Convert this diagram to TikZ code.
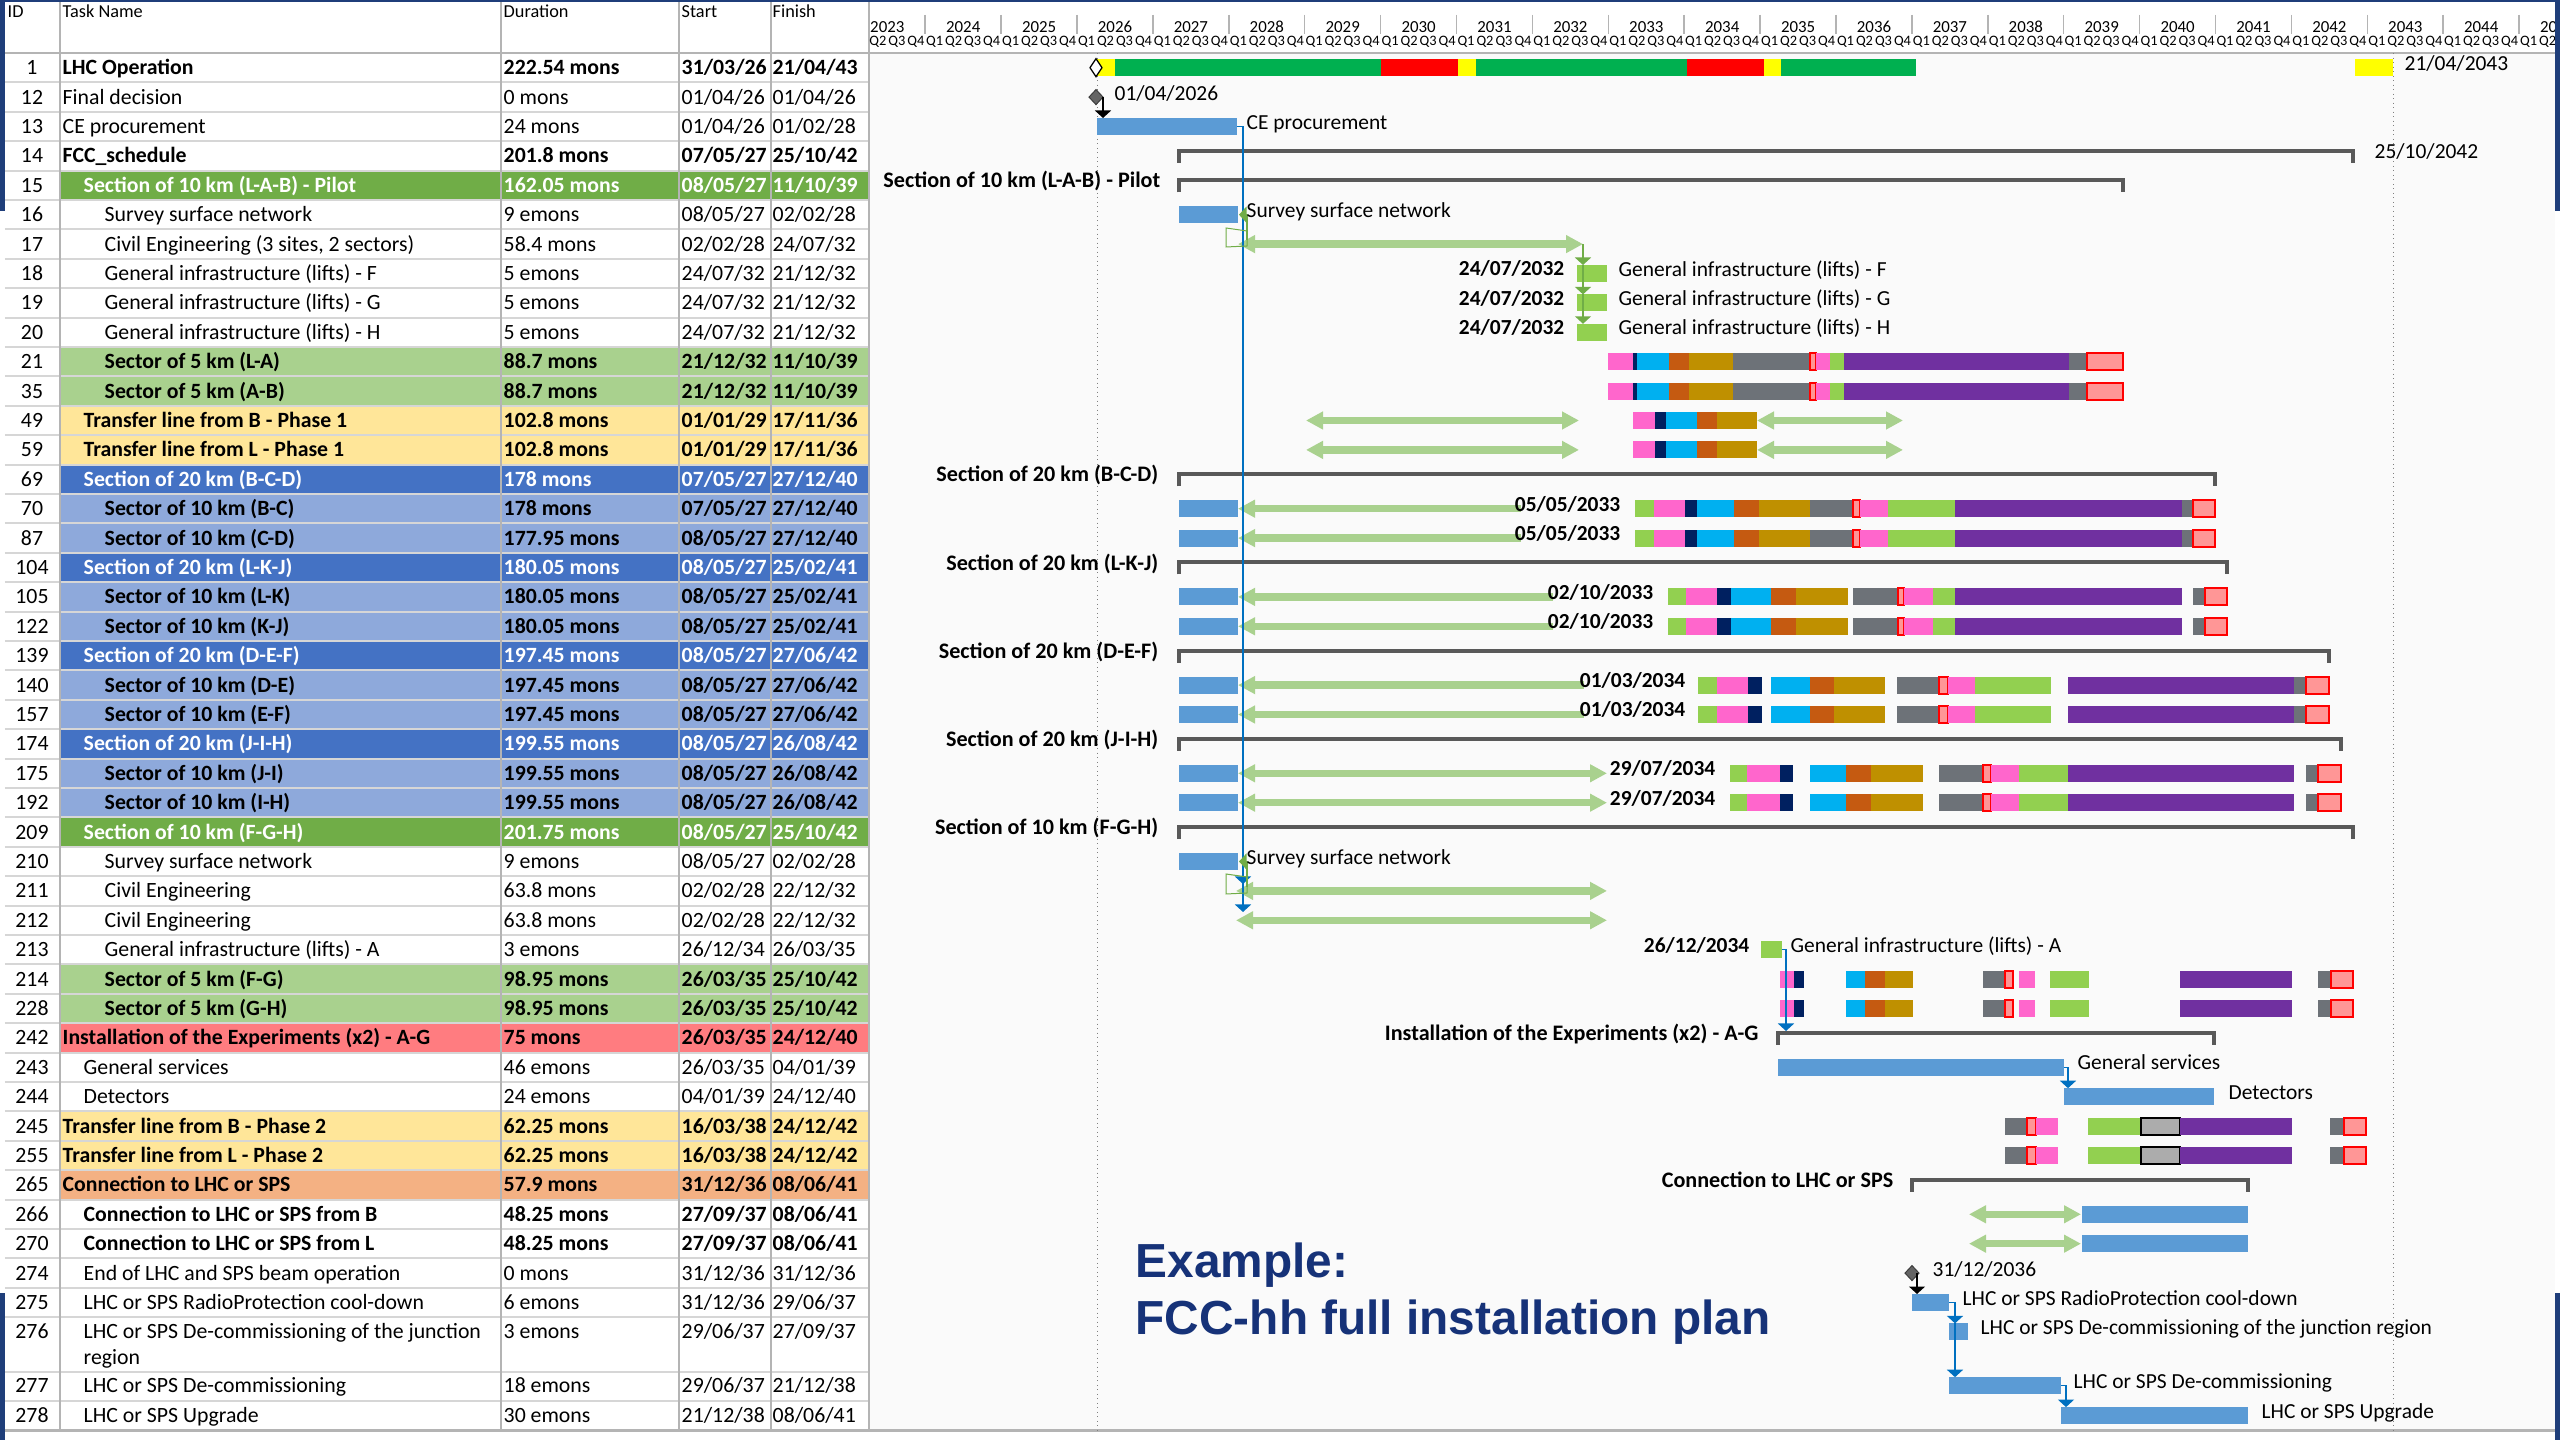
\documentclass[tikz,border=0pt]{standalone}
\usepackage{fontspec}
\setmainfont{Carlito}
\newfontfamily\titlefont{Liberation Sans}
\usetikzlibrary{arrows.meta,patterns}
\definecolor{slideblue}{RGB}{31,62,122}
\definecolor{titleblue}{RGB}{22,50,120}
\definecolor{secgreen}{RGB}{112,173,71}
\definecolor{ltgreen}{RGB}{169,209,142}
\definecolor{ltyellow}{RGB}{255,230,153}
\definecolor{secblue}{RGB}{68,114,196}
\definecolor{ltblue}{RGB}{142,169,219}
\definecolor{rowred}{RGB}{255,124,128}
\definecolor{roworange}{RGB}{244,177,131}
\definecolor{barblue}{RGB}{91,155,213}
\definecolor{liftgreen}{RGB}{146,208,80}
\definecolor{arrgreen}{RGB}{169,209,142}
\definecolor{linkblue}{RGB}{0,112,192}
\definecolor{linkgreen}{RGB}{112,173,71}
\definecolor{opyellow}{RGB}{255,255,0}
\definecolor{opgreen}{RGB}{0,176,80}
\definecolor{opred}{RGB}{255,0,0}
\definecolor{cpink}{RGB}{255,102,204}
\definecolor{cnavy}{RGB}{0,32,96}
\definecolor{ccyan}{RGB}{0,176,240}
\definecolor{crust}{RGB}{197,90,17}
\definecolor{cgold}{RGB}{191,144,0}
\definecolor{cgrey}{RGB}{109,114,120}
\definecolor{cpurple}{RGB}{112,48,160}
\definecolor{sumgrey}{RGB}{89,89,89}
\definecolor{msgrey}{RGB}{100,100,100}
\definecolor{gridgrey}{RGB}{214,214,214}
\definecolor{colgrey}{RGB}{180,180,180}
\definecolor{chartbg}{RGB}{250,250,250}
\definecolor{hatchred}{RGB}{255,150,150}

\begin{document}
\begin{tikzpicture}[x=0.1mm, y=-0.1mm,
  cell/.style={anchor=base west, inner sep=0pt, font=\fontsize{6.2}{7.4}\selectfont},
  cellb/.style={cell, font=\fontsize{6.2}{7.4}\selectfont\bfseries},
  cellw/.style={cellb, text=white},
  idcell/.style={anchor=base, inner sep=0pt, font=\fontsize{6.2}{7.4}\selectfont},
  hdr/.style={anchor=base west, inner sep=0pt, font=\fontsize{5.2}{6}\selectfont},
  yrlbl/.style={inner sep=0pt, font=\fontsize{4.8}{5}\selectfont},
  qlbl/.style={inner sep=0pt, font=\fontsize{4.1}{5}\selectfont},
  rlbl/.style={anchor=base west, inner sep=0pt, font=\fontsize{6.1}{7.4}\selectfont},
  dlbl/.style={anchor=base east, inner sep=0pt, font=\fontsize{6.1}{7.4}\selectfont\bfseries},
  slbl/.style={anchor=base east, inner sep=0pt, font=\fontsize{6.3}{7.4}\selectfont\bfseries},
  gridline/.style={draw=gridgrey, line width=0.2mm},
  colline/.style={draw=colgrey, line width=0.15mm},
  vdot/.style={draw=gray, line width=0.1mm, densely dotted},
  summ/.style={draw=sumgrey, line width=0.4mm, line join=miter},
  garr/.style={draw=arrgreen, line width=0.75mm},
  gboth/.style={garr, {Triangle[length=1.7mm,width=1.7mm]}-{Triangle[length=1.7mm,width=1.7mm]}},
  gleft/.style={garr, {Triangle[length=1.7mm,width=1.7mm]}-},
  blink/.style={draw=linkblue, line width=0.15mm, -{Triangle[length=0.75mm,width=1.6mm]}},
  klink/.style={draw=black, line width=0.15mm, -{Triangle[length=0.75mm,width=1.6mm]}},
  glink/.style={draw=linkgreen, line width=0.15mm, -{Triangle[length=0.75mm,width=1.6mm]}},
  sgpink/.style={fill=cpink}, sgnavy/.style={fill=cnavy}, sgcyan/.style={fill=ccyan},
  sgrust/.style={fill=crust}, sggold/.style={fill=cgold}, sggrey/.style={fill=cgrey},
  sggreen/.style={fill=liftgreen}, sgpurple/.style={fill=cpurple},
  sghatch/.style={draw=red, line width=0.2mm, fill=hatchred},
  sgblack/.style={draw=black, line width=0.2mm, fill=gray!65},
  ttl/.style={anchor=base west, inner sep=0pt, text=titleblue, font=\titlefont\bfseries\fontsize{13.6}{16}\selectfont}
]
\useasboundingbox (0,0) rectangle (2560,1440);
\fill[white] (0,0) rectangle (2560,1440);
\fill[chartbg] (869,53) rectangle (2555,1430.3);

% Table rows
\foreach \rw/\id/\nm/\du/\sd/\fn/\tx/\fc/\ts in {
 0/1/{LHC Operation}/{222.54 mons}/{31/03/26}/{21/04/43}/62/white/cellb,
 1/12/{Final decision}/{0 mons}/{01/04/26}/{01/04/26}/62/white/cell,
 2/13/{CE procurement}/{24 mons}/{01/04/26}/{01/02/28}/62/white/cell,
 3/14/{FCC\_schedule}/{201.8 mons}/{07/05/27}/{25/10/42}/62/white/cellb,
 4/15/{Section of 10 km (L-A-B) - Pilot}/{162.05 mons}/{08/05/27}/{11/10/39}/83/secgreen/cellw,
 5/16/{Survey surface network}/{9 emons}/{08/05/27}/{02/02/28}/104/white/cell,
 6/17/{Civil Engineering (3 sites, 2 sectors)}/{58.4 mons}/{02/02/28}/{24/07/32}/104/white/cell,
 7/18/{General infrastructure (lifts) - F}/{5 emons}/{24/07/32}/{21/12/32}/104/white/cell,
 8/19/{General infrastructure (lifts) - G}/{5 emons}/{24/07/32}/{21/12/32}/104/white/cell,
 9/20/{General infrastructure (lifts) - H}/{5 emons}/{24/07/32}/{21/12/32}/104/white/cell,
 10/21/{Sector of 5 km (L-A)}/{88.7 mons}/{21/12/32}/{11/10/39}/104/ltgreen/cellb,
 11/35/{Sector of 5 km (A-B)}/{88.7 mons}/{21/12/32}/{11/10/39}/104/ltgreen/cellb,
 12/49/{Transfer line from B - Phase 1}/{102.8 mons}/{01/01/29}/{17/11/36}/83/ltyellow/cellb,
 13/59/{Transfer line from L - Phase 1}/{102.8 mons}/{01/01/29}/{17/11/36}/83/ltyellow/cellb,
 14/69/{Section of 20 km (B-C-D)}/{178 mons}/{07/05/27}/{27/12/40}/83/secblue/cellw,
 15/70/{Sector of 10 km (B-C)}/{178 mons}/{07/05/27}/{27/12/40}/104/ltblue/cellb,
 16/87/{Sector of 10 km (C-D)}/{177.95 mons}/{08/05/27}/{27/12/40}/104/ltblue/cellb,
 17/104/{Section of 20 km (L-K-J)}/{180.05 mons}/{08/05/27}/{25/02/41}/83/secblue/cellw,
 18/105/{Sector of 10 km (L-K)}/{180.05 mons}/{08/05/27}/{25/02/41}/104/ltblue/cellb,
 19/122/{Sector of 10 km (K-J)}/{180.05 mons}/{08/05/27}/{25/02/41}/104/ltblue/cellb,
 20/139/{Section of 20 km (D-E-F)}/{197.45 mons}/{08/05/27}/{27/06/42}/83/secblue/cellw,
 21/140/{Sector of 10 km (D-E)}/{197.45 mons}/{08/05/27}/{27/06/42}/104/ltblue/cellb,
 22/157/{Sector of 10 km (E-F)}/{197.45 mons}/{08/05/27}/{27/06/42}/104/ltblue/cellb,
 23/174/{Section of 20 km (J-I-H)}/{199.55 mons}/{08/05/27}/{26/08/42}/83/secblue/cellw,
 24/175/{Sector of 10 km (J-I)}/{199.55 mons}/{08/05/27}/{26/08/42}/104/ltblue/cellb,
 25/192/{Sector of 10 km (I-H)}/{199.55 mons}/{08/05/27}/{26/08/42}/104/ltblue/cellb,
 26/209/{Section of 10 km (F-G-H)}/{201.75 mons}/{08/05/27}/{25/10/42}/83/secgreen/cellw,
 27/210/{Survey surface network}/{9 emons}/{08/05/27}/{02/02/28}/104/white/cell,
 28/211/{Civil Engineering}/{63.8 mons}/{02/02/28}/{22/12/32}/104/white/cell,
 29/212/{Civil Engineering}/{63.8 mons}/{02/02/28}/{22/12/32}/104/white/cell,
 30/213/{General infrastructure (lifts) - A}/{3 emons}/{26/12/34}/{26/03/35}/104/white/cell,
 31/214/{Sector of 5 km (F-G)}/{98.95 mons}/{26/03/35}/{25/10/42}/104/ltgreen/cellb,
 32/228/{Sector of 5 km (G-H)}/{98.95 mons}/{26/03/35}/{25/10/42}/104/ltgreen/cellb,
 33/242/{Installation of the Experiments (x2) - A-G}/{75 mons}/{26/03/35}/{24/12/40}/62/rowred/cellb,
 34/243/{General services}/{46 emons}/{26/03/35}/{04/01/39}/83/white/cell,
 35/244/{Detectors}/{24 emons}/{04/01/39}/{24/12/40}/83/white/cell,
 36/245/{Transfer line from B - Phase 2}/{62.25 mons}/{16/03/38}/{24/12/42}/62/ltyellow/cellb,
 37/255/{Transfer line from L - Phase 2}/{62.25 mons}/{16/03/38}/{24/12/42}/62/ltyellow/cellb,
 38/265/{Connection to LHC or SPS}/{57.9 mons}/{31/12/36}/{08/06/41}/62/roworange/cellb,
 39/266/{Connection to LHC or SPS from B}/{48.25 mons}/{27/09/37}/{08/06/41}/83/white/cellb,
 40/270/{Connection to LHC or SPS from L}/{48.25 mons}/{27/09/37}/{08/06/41}/83/white/cellb,
 41/274/{End of LHC and SPS beam operation}/{0 mons}/{31/12/36}/{31/12/36}/83/white/cell,
 42/275/{LHC or SPS RadioProtection cool-down}/{6 emons}/{31/12/36}/{29/06/37}/83/white/cell,
 43/276/{\vtop{\hbox{LHC or SPS De-commissioning of the junction}\hbox{region}}}/{3 emons}/{29/06/37}/{27/09/37}/83/white/cell,
 44.83/277/{LHC or SPS De-commissioning}/{18 emons}/{29/06/37}/{21/12/38}/83/white/cell,
 45.83/278/{LHC or SPS Upgrade}/{30 emons}/{21/12/38}/{08/06/41}/83/white/cell}{
  \fill[\fc] (60,{53+29.4*\rw}) rectangle (869,{82.4+29.4*\rw});
  \node[idcell] (id\id) at (32,{74.7+29.4*\rw}) {\id};
  \node[\ts] (tn\id) at (\tx,{74.7+29.4*\rw}) {\nm};
  \node[\ts] (du\id) at (503,{74.7+29.4*\rw}) {\du};
  \node[\ts] (st\id) at (681,{74.7+29.4*\rw}) {\sd};
  \node[\ts] (fn\id) at (772,{74.7+29.4*\rw}) {\fn};
}

% Grid
\foreach \k in {1,...,43}
  \draw[gridline] (5,{53+29.4*\k}) -- (869,{53+29.4*\k});
\foreach \yy in {1371.5,1400.9}
  \draw[gridline] (5,\yy) -- (869,\yy);
\foreach \xx in {60,501,679,771}
  \draw[colline] (\xx,0) -- (\xx,1430.3);
\draw[colgrey, line width=0.25mm] (0,53) -- (2555,53);
\draw[colgrey, line width=0.25mm] (869,0) -- (869,1430.3);
\draw[colgrey, line width=0.25mm] (0,1430.3) -- (2555,1430.3);

% Header
\node[hdr] (hID) at (7,18) {ID};
\node[hdr] (hTN) at (62,18) {Task Name};
\node[hdr] (hDU) at (503,18) {Duration};
\node[hdr] (hST) at (681,18) {Start};
\node[hdr] (hFN) at (772,18) {Finish};

% Timescale
\begin{scope}
  \clip (869,0) rectangle (2555,52);
  \foreach \yr [count=\k from 0] in {2023,...,2045} {
    \pgfmathsetmacro{\xs}{849.3+75.9*\k}
    \draw[colline] (\xs,15) -- (\xs,34);
    \node[yrlbl] (yr\yr) at ({\xs+38},27) {\yr};
    \foreach \q in {1,...,4}
      \node[qlbl] (q\yr\q) at ({\xs+19*\q-9.5},42) {Q\q};
  }
\end{scope}

% Status date lines
\draw[vdot] (1097,53) -- (1097,1430);
\draw[vdot] (2393,53) -- (2393,1430);

% LHC operation
\foreach \xl/\xr/\cl in {1097/1115/opyellow, 1115/1381/opgreen, 1381/1458/opred, 1458/1476/opyellow,
    1476/1687/opgreen, 1687/1764/opred, 1764/1781/opyellow, 1781/1916/opgreen, 2355/2393/opyellow}
  \fill[\cl] (\xl,59.2) rectangle (\xr,76.2);
\draw[fill=white, line width=0.12mm] (1090,67.7) -- (1096,58.7) -- (1102,67.7) -- (1096,76.7) -- cycle;
\node[rlbl] (opend) at (2404,70.4) {21/04/2043};

% Summary bars
\foreach \rw/\xl/\xr in {3/1179/2353, 4/1179/2123, 14/1179/2215, 17/1179/2227, 20/1179/2329,
    23/1179/2341, 26/1179/2353, 33/1778/2214, 38/1912/2248}
  \draw[summ] (\xl,{74.7+29.4*\rw}) -- (\xl,{62.7+29.4*\rw}) -- (\xr,{62.7+29.4*\rw}) -- (\xr,{74.7+29.4*\rw});
\node[rlbl] (fccend) at (2374,158.6) {25/10/2042};
\foreach \rw/\xr/\tx in {4/1161/{Section of 10 km (L-A-B) - Pilot}, 14/1159/{Section of 20 km (B-C-D)},
    17/1159/{Section of 20 km (L-K-J)}, 20/1159/{Section of 20 km (D-E-F)}, 23/1159/{Section of 20 km (J-I-H)},
    26/1159/{Section of 10 km (F-G-H)}, 33/1759/{Installation of the Experiments (x2) - A-G},
    38/1894/{Connection to LHC or SPS}}
  \node[slbl] (sl\rw) at (\xr,{70.4+29.4*\rw}) {\tx};

% Task bars
\foreach \rw/\xl/\xr in {2/1097/1237, 5/1179/1238, 15/1179/1238, 16/1179/1238, 18/1179/1238, 19/1179/1238,
    21/1179/1238, 22/1179/1238, 24/1179/1238, 25/1179/1238, 27/1179/1238, 34/1778/2064, 35/2064/2214,
    39/2082/2248, 40/2082/2248, 42/1912/1949, 43/1949/1968, 44.83/1949/2061, 45.83/2061/2248}
  \fill[barblue] (\xl,{59.2+29.4*\rw}) rectangle (\xr,{76.2+29.4*\rw});
\foreach \rw/\xl/\xr in {7/1577/1607, 8/1577/1607, 9/1577/1607, 30/1761/1782}
  \fill[liftgreen] (\xl,{59.2+29.4*\rw}) rectangle (\xr,{76.2+29.4*\rw});

% Civil engineering arrows
\foreach \rw/\xl/\xr/\sg in {6/1238/1583/gboth, 12/1306/1579/gboth, 12/1757/1903/gboth, 13/1306/1579/gboth,
    13/1757/1903/gboth, 15/1238/1521/gleft, 16/1238/1521/gleft, 18/1238/1553/gleft, 19/1238/1553/gleft,
    21/1238/1584/gleft, 22/1238/1584/gleft, 24/1238/1607/gboth, 25/1238/1607/gboth, 28/1236/1607/gboth,
    29/1236/1607/gboth, 39/1969/2081/gboth, 40/1969/2081/gboth}
  \draw[\sg] (\xl,{67.7+29.4*\rw}) -- (\xr,{67.7+29.4*\rw});

% Sector segments
\foreach \rw in {10,11}
  \foreach \xl/\xr/\sg in {1608/1633/sgpink, 1633/1637/sgnavy, 1637/1669/sgcyan, 1669/1689/sgrust,
      1689/1733/sggold, 1733/1810/sggrey, 1810/1816/sghatch, 1816/1830/sgpink, 1830/1844/sggreen,
      1844/2069/sgpurple, 2069/2087/sggrey, 2087/2123/sghatch}
    \path[\sg] (\xl,{59.2+29.4*\rw}) rectangle (\xr,{76.2+29.4*\rw});
\foreach \rw in {12,13}
  \foreach \xl/\xr/\sg in {1633/1655/sgpink, 1655/1666/sgnavy, 1666/1697/sgcyan, 1697/1717/sgrust, 1717/1757/sggold}
    \path[\sg] (\xl,{59.2+29.4*\rw}) rectangle (\xr,{76.2+29.4*\rw});
\foreach \rw in {15,16}
  \foreach \xl/\xr/\sg in {1635/1654/sggreen, 1654/1685/sgpink, 1685/1697/sgnavy, 1697/1734/sgcyan,
      1734/1759/sgrust, 1759/1810/sggold, 1810/1853/sggrey, 1853/1860/sghatch, 1860/1888/sgpink,
      1888/1955/sggreen, 1955/2182/sgpurple, 2182/2193/sggrey, 2193/2215/sghatch}
    \path[\sg] (\xl,{59.2+29.4*\rw}) rectangle (\xr,{76.2+29.4*\rw});
\foreach \rw in {18,19}
  \foreach \xl/\xr/\sg in {1668/1686/sggreen, 1686/1717/sgpink, 1717/1731/sgnavy, 1731/1771/sgcyan,
      1771/1796/sgrust, 1796/1848/sggold, 1853/1898/sggrey, 1898/1904/sghatch, 1904/1933/sgpink,
      1933/1955/sggreen, 1955/2182/sgpurple, 2193/2205/sggrey, 2205/2227/sghatch}
    \path[\sg] (\xl,{59.2+29.4*\rw}) rectangle (\xr,{76.2+29.4*\rw});
\foreach \rw in {21,22}
  \foreach \xl/\xr/\sg in {1698/1717/sggreen, 1717/1748/sgpink, 1748/1762/sgnavy, 1771/1810/sgcyan,
      1810/1834/sgrust, 1834/1885/sggold, 1897/1939/sggrey, 1939/1948/sghatch, 1948/1975/sgpink,
      1975/2051/sggreen, 2068/2294/sgpurple, 2294/2306/sggrey, 2306/2329/sghatch}
    \path[\sg] (\xl,{59.2+29.4*\rw}) rectangle (\xr,{76.2+29.4*\rw});
\foreach \rw in {24,25}
  \foreach \xl/\xr/\sg in {1730/1747/sggreen, 1747/1780/sgpink, 1780/1793/sgnavy, 1810/1846/sgcyan,
      1846/1871/sgrust, 1871/1923/sggold, 1939/1983/sggrey, 1983/1991/sghatch, 1991/2019/sgpink,
      2019/2068/sggreen, 2068/2294/sgpurple, 2306/2318/sggrey, 2318/2341/sghatch}
    \path[\sg] (\xl,{59.2+29.4*\rw}) rectangle (\xr,{76.2+29.4*\rw});
\foreach \rw in {31,32}
  \foreach \xl/\xr/\sg in {1780/1794/sgpink, 1794/1804/sgnavy, 1846/1865/sgcyan, 1865/1885/sgrust,
      1885/1913/sggold, 1983/2005/sggrey, 2005/2013/sghatch, 2019/2035/sgpink, 2050/2089/sggreen,
      2180/2292/sgpurple, 2318/2331/sggrey, 2331/2353/sghatch}
    \path[\sg] (\xl,{59.2+29.4*\rw}) rectangle (\xr,{76.2+29.4*\rw});
\foreach \rw in {36,37}
  \foreach \xl/\xr/\sg in {2005/2027/sggrey, 2027/2036/sghatch, 2036/2058/sgpink, 2088/2141/sggreen,
      2141/2180/sgblack, 2180/2292/sgpurple, 2330/2344/sggrey, 2344/2366/sghatch}
    \path[\sg] (\xl,{59.2+29.4*\rw}) rectangle (\xr,{76.2+29.4*\rw});

% Milestones
\filldraw[fill=msgrey, draw=msgrey!60!black, line width=0.1mm]
  (1089,97.1) -- (1096,89.6) -- (1103,97.1) -- (1096,104.6) -- cycle;
\node[rlbl] (fdate) at (1114,100.1) {01/04/2026};
\filldraw[fill=msgrey, draw=msgrey!60!black, line width=0.1mm]
  (1905,1273.1) -- (1912,1265.6) -- (1919,1273.1) -- (1912,1280.6) -- cycle;
\node[rlbl] (eoldate) at (1932,1276.1) {31/12/2036};

% Links
\coordinate (fd) at (1103,97.1);
\coordinate (ceTop) at (1103,118);
\draw[klink] (fd) -- (ceTop);
\coordinate (ceEnd) at (1237,126.5);
\coordinate (cvA0) at (1243,868);
\coordinate (cvA) at (1243,884);
\coordinate (cvB) at (1243,912);
\draw[blink] (ceEnd) -| (cvB);
\draw[blink] (cvA0) -- (cvA);
\coordinate (svEndA) at (1239,214.7);
\coordinate (svEndB) at (1239,861.5);
\draw[glink] (1247,240) |- (svEndA);
\draw[glink] (1247,887) |- (svEndB);
\draw[linkgreen, line width=0.1mm] (1226,228) -- (1247,231) -- (1247,246) -- (1226,247) -- cycle;
\draw[linkgreen, line width=0.1mm] (1226,874) -- (1247,877) -- (1247,893) -- (1226,894) -- cycle;
\coordinate (cvEnd) at (1583,244.1);
\coordinate (lfF) at (1583,265);
\coordinate (lfG) at (1583,294.4);
\coordinate (lfH) at (1583,323.8);
\draw[glink] (cvEnd) -- (lfF);
\draw[glink] (lfF) -- (lfG);
\draw[glink] (lfG) -- (lfH);
\coordinate (lfAEnd) at (1782,949.7);
\coordinate (instTop) at (1786,1031);
\draw[blink] (lfAEnd) -| (instTop);
\coordinate (gsEnd) at (2064,1067.3);
\coordinate (detTop) at (2068,1088.2);
\draw[blink] (gsEnd) -| (detTop);
\coordinate (eol) at (1917,1273.1);
\coordinate (rpTop) at (1917,1294);
\draw[klink] (eol) -- (rpTop);
\coordinate (rpEnd) at (1949,1302.5);
\coordinate (jrTop) at (1955,1323.4);
\coordinate (dcTop) at (1955,1377.2);
\draw[blink] (rpEnd) -| (jrTop);
\draw[blink] (jrTop) -- (dcTop);
\coordinate (dcEnd) at (2061,1385.7);
\coordinate (upTop) at (2066,1407.1);
\draw[blink] (dcEnd) -| (upTop);

% Dates before sectors
\foreach \rw/\xr/\tx in {7/1565/{24/07/2032}, 8/1565/{24/07/2032}, 9/1565/{24/07/2032},
    15/1621/{05/05/2033}, 16/1621/{05/05/2033}, 18/1654/{02/10/2033}, 19/1654/{02/10/2033},
    21/1686/{01/03/2034}, 22/1686/{01/03/2034}, 24/1716/{29/07/2034}, 25/1716/{29/07/2034},
    30/1750/{26/12/2034}}
  \node[dlbl] (dl\rw) at (\xr,{70.2+29.4*\rw}) {\tx};

% Task labels
\node[rlbl] (ceLbl) at (1246,129.2) {CE procurement};
\node[rlbl] (svLblA) at (1246,217.4) {Survey surface network};
\foreach \rw/\tx in {7/F, 8/G, 9/H}
  \node[rlbl] (lf\tx) at (1618,{70.4+29.4*\rw}) {General infrastructure (lifts) - \tx};
\node[rlbl] (svLblB) at (1246,864.2) {Survey surface network};
\node[rlbl] (lfA) at (1790,952.4) {General infrastructure (lifts) - A};
\node[rlbl] (gsLbl) at (2077,1070) {General services};
\node[rlbl] (detLbl) at (2228,1099.4) {Detectors};
\node[rlbl] (rpLbl) at (1962,1305.2) {LHC or SPS RadioProtection cool-down};
\node[rlbl] (jrLbl) at (1980,1334.6) {LHC or SPS De-commissioning of the junction region};
\node[rlbl] (dcLbl) at (2073,1388.4) {LHC or SPS De-commissioning};
\node[rlbl] (upLbl) at (2261,1418.3) {LHC or SPS Upgrade};

% Title
\node[ttl] (ttlA) at (1135,1278) {Example:};
\node[ttl] (ttlB) at (1135,1334) {FCC-hh full installation plan};

% Slide frame
\fill[slideblue] (0,0) rectangle (2560,2.5);
\fill[slideblue] (0,0) rectangle (5,211);
\fill[slideblue] (0,1293) rectangle (5,1440);
\fill[slideblue] (2555,0) rectangle (2560,211);
\fill[slideblue] (2555,1293) rectangle (2560,1440);
\end{tikzpicture}
\end{document}
